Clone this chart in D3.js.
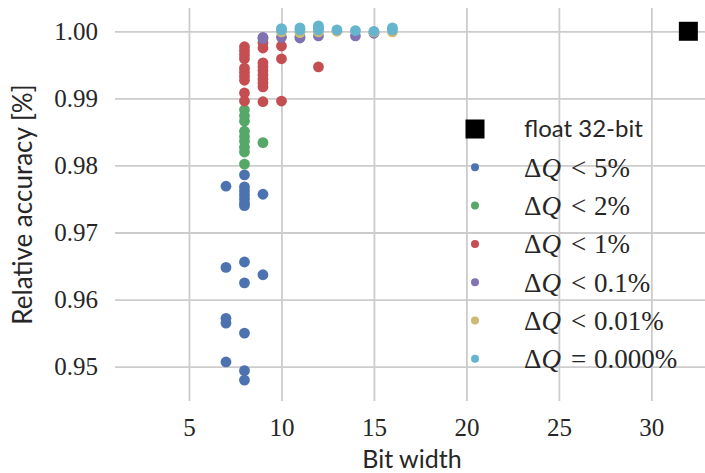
<!DOCTYPE html>
<html>
<head>
<meta charset="utf-8">
<script src="https://cdn.jsdelivr.net/npm/d3@7"></script>
<style>
  body { margin: 0; background: #fff; }
  .tick text { font-family: "Liberation Serif", serif; font-size: 25px; fill: #262626; }
  .sans { font-family: Lato, sans-serif; fill: #262626; }
</style>
</head>
<body>
<div id="chart"></div>
<script>
// data: [bit width, relative accuracy]
var float32 = [[32, 1.0]];
var dq5 = [[7, 0.9769], [7, 0.9648], [7, 0.9572], [7, 0.9565], [7, 0.9507],
  [8, 0.9786], [8, 0.9768], [8, 0.9762], [8, 0.9756], [8, 0.9750], [8, 0.9744], [8, 0.9740],
  [8, 0.9656], [8, 0.9625], [8, 0.9550], [8, 0.9494], [8, 0.9480],
  [9, 0.9757], [9, 0.9637]];
var dq2 = [[8, 0.9883], [8, 0.9874], [8, 0.9866], [8, 0.9851], [8, 0.9843], [8, 0.9836],
  [8, 0.9827], [8, 0.9820], [8, 0.9802], [9, 0.9834]];
var dq1 = [[8, 0.9977], [8, 0.9971], [8, 0.9965], [8, 0.9959], [8, 0.9945], [8, 0.9939],
  [8, 0.9933], [8, 0.9927], [8, 0.9908], [8, 0.9896],
  [9, 0.9983], [9, 0.9975], [9, 0.9953], [9, 0.9947], [9, 0.9941], [9, 0.9935],
  [9, 0.9929], [9, 0.9923], [9, 0.9917], [9, 0.9895],
  [10, 0.9978], [10, 0.9959], [10, 0.9896], [12, 0.9947]];
var dq01 = [[9, 0.9991], [9, 0.9989], [10, 0.9991], [11, 0.9990], [11, 0.9992],
  [12, 0.9993], [14, 0.9993], [15, 0.9997]];
var dq001 = [[10, 0.9999], [11, 0.9998], [12, 0.9999], [13, 1.0000], [15, 0.9999], [16, 0.9999]];
var dq0 = [[10, 1.0004], [10, 1.0002], [11, 1.0005], [11, 1.0002], [12, 1.0008], [12, 1.0005],
  [12, 1.0002], [13, 1.0002], [14, 1.0001], [15, 1.0000], [16, 1.0005], [16, 1.0002]];

var seriesNames = ["dq5", "dq2", "dq1", "dq01", "dq001", "dq0"];
var seriesData = [dq5, dq2, dq1, dq01, dq001, dq0];
var seriesColors = ["#4c72b0", "#55a868", "#c44e52", "#8172b2", "#ccb974", "#64b5cd"];
var seriesOps = ["<", "<", "<", "<", "<", "="];
var seriesLabels = ["5%", "2%", "1%", "0.1%", "0.01%", "0.000%"];

var xTicks = [5, 10, 15, 20, 25, 30];
var yTicks = [0.95, 0.96, 0.97, 0.98, 0.99, 1.00];

// set the dimensions and margins of the graph
var margin = {top: 8, right: 0, bottom: 72, left: 115},
    width = 705 - margin.left - margin.right,
    height = 473 - margin.top - margin.bottom;

var svg = d3.select("#chart")
  .append("svg")
    .attr("width", 705)
    .attr("height", 473)
  .append("g")
    .attr("transform", "translate(" + margin.left + "," + margin.top + ")");

var x = d3.scaleLinear()
  .domain([1, 32.9])
  .range([0, width]);

var y = d3.scaleLinear()
  .domain([0.94488, 1.00347])
  .range([height, 0]);

// grid + tick labels
var xAxis = svg.append("g")
  .attr("transform", "translate(0," + height + ")")
  .call(d3.axisBottom(x).tickValues(xTicks).tickSize(-height).tickPadding(14).tickFormat(d3.format("d")));
var yAxis = svg.append("g")
  .call(d3.axisLeft(y).tickValues(yTicks).tickSize(-width).tickPadding(17).tickFormat(d3.format(".2f")));
[xAxis, yAxis].forEach(function(a) {
  a.select(".domain").remove();
  a.selectAll(".tick line").attr("stroke", "#cccccc").attr("stroke-width", 1.8);
});
xAxis.selectAll(".tick text").attr("dy", "0.85em");

// axis titles
svg.append("text")
  .attr("class", "sans")
  .attr("x", 412 - margin.left)
  .attr("y", 468 - margin.top)
  .attr("text-anchor", "middle")
  .style("font-size", "25px")
  .text("Bit width");

svg.append("text")
  .attr("class", "sans")
  .attr("transform", "translate(-83," + (height / 2) + ") rotate(-90)")
  .attr("text-anchor", "middle")
  .style("font-size", "26px")
  .text("Relative accuracy [%]");

// dots, one group per series
seriesData.forEach(function(data, i) {
  svg.append("g")
    .selectAll("circle")
    .data(data)
    .enter()
    .append("circle")
      .attr("class", "dot " + seriesNames[i])
      .attr("cx", function(d) { return x(d[0]); })
      .attr("cy", function(d) { return y(d[1]); })
      .attr("r", 5.4)
      .style("fill", seriesColors[i]);
});

// float reference marker
svg.append("g")
  .selectAll("rect")
  .data(float32)
  .enter()
  .append("rect")
    .attr("x", function(d) { return x(d[0]) - 9.5; })
    .attr("y", function(d) { return y(d[1]) - 9.5; })
    .attr("width", 19)
    .attr("height", 19)
    .style("fill", "#000");

// legend
var legend = svg.append("g").attr("transform", "translate(" + (475 - margin.left) + "," + (129 - margin.top) + ")");
legend.append("rect")
  .attr("x", -9.5).attr("y", -9.5).attr("width", 19).attr("height", 19)
  .style("fill", "#000");
legend.append("text")
  .attr("class", "sans")
  .attr("x", 49).attr("y", 0).attr("dy", "0.35em")
  .style("font-size", "24px")
  .text("float 32-bit");

seriesLabels.forEach(function(lab, i) {
  var row = legend.append("g").attr("transform", "translate(0," + ((i + 1) * 38.3) + ")");
  row.append("circle").attr("r", 4).style("fill", seriesColors[i]);
  var t = row.append("text")
    .attr("x", 49).attr("dy", "0.35em")
    .style("font-family", "'Liberation Serif', serif")
    .style("font-size", "27px")
    .style("fill", "#262626");
  t.append("tspan").text("\u0394");
  t.append("tspan").style("font-style", "italic").text("Q");
  t.append("tspan").attr("dx", 10).text(seriesOps[i]);
  t.append("tspan").attr("dx", 8).text(lab);
});
</script>
</body>
</html>
